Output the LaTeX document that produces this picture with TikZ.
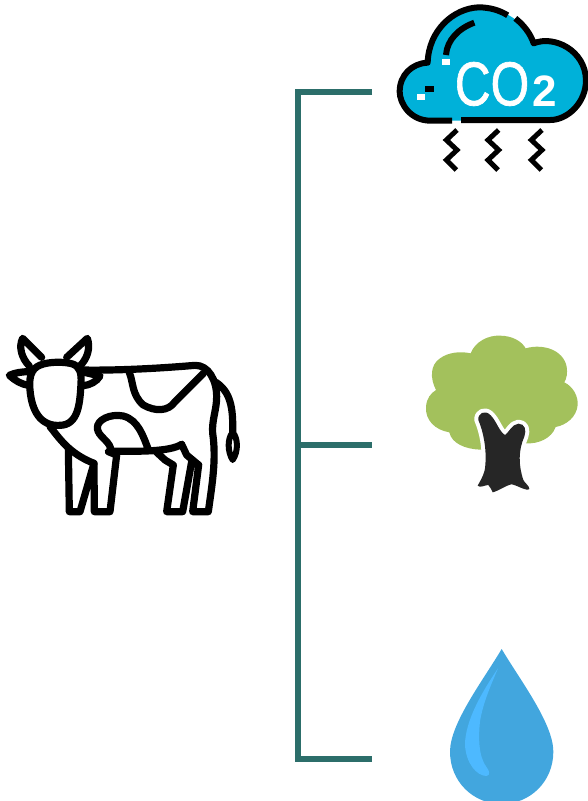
\documentclass[tikz,border=0pt]{standalone}
\usepackage{fontspec}
\setmainfont{Liberation Sans}
\newfontfamily\cofont[FakeBold=1.2]{Liberation Sans}
\definecolor{brk}{HTML}{2C6E6A}
\definecolor{cloudc}{HTML}{00B1D9}
\definecolor{leaf}{HTML}{A3C15C}
\definecolor{bark}{HTML}{262626}
\definecolor{dropc}{HTML}{42A6DE}
\definecolor{droph}{HTML}{4DB9FF}
\tikzset{
  bracket/.style={draw=brk,line width=5.5pt},
  cowline/.style={draw=black,line width=7.2pt,line join=round,line cap=round},
  cloudline/.style={draw=black,line width=6pt,line join=round},
  zig/.style={draw=black,line width=5pt,line join=miter},
}
\begin{document}
\begin{tikzpicture}[x=1pt,y=-1pt]
\useasboundingbox (0,0) rectangle (587,801);
% bracket
\coordinate (top) at (298,92);
\coordinate (mid) at (298,445);
\coordinate (bot) at (298,759);
\coordinate (topEnd) at (372,92);
\coordinate (midEnd) at (372,445);
\coordinate (botEnd) at (372,759);
\draw[bracket,line join=miter] (topEnd) -- (top) -- (bot) -- (botEnd);
\draw[bracket] (mid) -- (midEnd);
% cow
\begin{scope}[shift={(0,320)},x=0.33333pt,y=-0.33333pt]
\path[cowline]
  (130,132) .. controls (155,125) and (195,125) .. (218,132)
  .. controls (240,140) and (245,160) .. (243,190)
  .. controls (240,250) and (235,315) .. (180,316)
  .. controls (120,320) and (95,270) .. (90,210)
  .. controls (85,160) and (100,140) .. (130,132) -- cycle;
\path[cowline] (125,112) -- (68,55) .. controls (55,80) and (65,115) .. (88,138);
\path[cowline] (200,112) -- (262,55) .. controls (272,85) and (262,115) .. (240,138);
\path[cowline] (90,155) .. controls (65,155) and (45,158) .. (28,166) .. controls (45,182) and (65,193) .. (85,196);
\path[cowline] (245,155) -- (300,168) .. controls (290,185) and (270,195) .. (250,197);
\path[cowline] (245,150) .. controls (350,152) and (480,145) .. (585,136)
  .. controls (625,135) and (650,180) .. (650,230)
  .. controls (650,270) and (635,300) .. (638,340)
  .. controls (650,420) and (635,500) .. (625,575) -- (578,575) -- (596,435) -- (575,425)
  -- (548,575) -- (500,575) -- (520,435) -- (495,420) -- (468,395);
\path[cowline] (545,373) .. controls (510,395) and (420,395) .. (328,393);
\path[cowline] (545,373) -- (560,405) -- (596,435);
\path[cowline] (350,405) -- (330,575) -- (283,575) -- (282,430) -- (240,575) -- (208,575) -- (205,385);
\path[cowline] (150,320) .. controls (175,350) and (205,400) .. (282,430);
\path[cowline] (325,395) -- (350,405);
\path[cowline] (388,158) .. controls (400,185) and (395,225) .. (430,255)
  .. controls (465,275) and (505,275) .. (525,245) -- (610,160);
\path[cowline] (445,388) .. controls (430,350) and (415,300) .. (370,288)
  .. controls (330,280) and (290,300) .. (292,325) .. controls (295,350) and (325,360) .. (332,385);
\path[cowline] (648,187) .. controls (690,215) and (700,260) .. (698,335);
\path[cowline,line width=6pt] (698,337) .. controls (682,355) and (682,395) .. (698,420) .. controls (715,395) and (715,355) .. (698,337) -- cycle;
\end{scope}
% cloud
\begin{scope}[shift={(387,0)},x=0.33333pt,y=-0.33333pt]
\fill[cloudc] (200,362) -- (130,362) .. controls (70,362) and (38,310) .. (38,275)
  .. controls (38,225) and (75,190) .. (122,188)
  .. controls (125,90) and (200,25) .. (275,22)
  .. controls (350,22) and (420,70) .. (440,130)
  .. controls (500,105) and (595,150) .. (597,240)
  .. controls (597,310) and (540,360) .. (490,360) -- cycle;
\path[cloudline,line cap=butt] (195,362) -- (130,362) .. controls (70,362) and (38,310) .. (38,275)
  .. controls (38,225) and (75,190) .. (122,188)
  .. controls (125,90) and (200,25) .. (275,22)
  .. controls (310,22) and (340,32) .. (362,46);
\path[cloudline,line cap=butt] (385,55) .. controls (410,75) and (430,100) .. (440,130)
  .. controls (500,105) and (595,150) .. (597,240)
  .. controls (597,310) and (540,360) .. (490,360) -- (222,360);
\path[cloudline,line cap=butt] (262,68) .. controls (215,85) and (180,120) .. (177,165);
\fill[white] (165,178) rectangle (190,195);
\fill[white] (90,282) rectangle (115,300);
\fill[black] (115,258) rectangle (140,276);
\node[white,font=\cofont\fontsize{62}{62}\selectfont,xscale=0.8,transform shape,anchor=base west,inner sep=0pt] (co) at (203,316) {CO};
\node[white,font=\bfseries\fontsize{44}{44}\selectfont,anchor=base west,inner sep=0pt] (two) at (436,318) {2};
\foreach \o in {0,125,255}{
  \path[zig] (210+\o,390) -- (178+\o,420) -- (210+\o,450) -- (178+\o,480) -- (208+\o,510);
}
\end{scope}
% tree
\begin{scope}[shift={(410,325)},x=0.33333pt,y=-0.33333pt]
\fill[leaf] (210,374) .. controls (165,372) and (125,355) .. (118,322)
  .. controls (75,315) and (45,285) .. (48,245)
  .. controls (50,220) and (62,205) .. (78,195)
  .. controls (60,160) and (60,120) .. (90,100)
  .. controls (115,82) and (150,78) .. (182,85)
  .. controls (195,50) and (235,30) .. (270,32)
  .. controls (305,32) and (335,48) .. (347,70)
  .. controls (400,55) and (460,75) .. (470,125)
  .. controls (473,145) and (470,160) .. (463,172)
  .. controls (490,185) and (505,215) .. (503,240)
  .. controls (500,275) and (470,300) .. (437,306)
  .. controls (425,340) and (385,358) .. (345,355) -- cycle;
\def\trunk{(205,285) .. controls (203,265) and (225,252) .. (243,272)
  .. controls (260,290) and (268,320) .. (285,330)
  .. controls (295,325) and (305,298) .. (325,296)
  .. controls (345,296) and (350,315) .. (343,335)
  .. controls (325,375) and (325,420) .. (340,465)
  .. controls (345,475) and (358,482) .. (358,492)
  .. controls (350,500) and (320,480) .. (305,478)
  .. controls (290,480) and (265,498) .. (248,502)
  .. controls (240,495) and (245,485) .. (235,480)
  .. controls (225,480) and (210,490) .. (203,482)
  .. controls (215,460) and (225,445) .. (226,420)
  .. controls (230,370) and (220,320) .. (205,285) -- cycle}
\draw[white,line width=8pt,line join=round] \trunk;
\fill[bark] \trunk;
\end{scope}
% drop
\begin{scope}[shift={(430,640)},x=0.33333pt,y=-0.33333pt]
\fill[dropc] (215,27) .. controls (270,120) and (370,250) .. (370,335)
  .. controls (370,425) and (300,492) .. (215,492)
  .. controls (130,492) and (60,425) .. (60,335)
  .. controls (60,250) and (160,120) .. (215,27) -- cycle;
\fill[droph] (204,85) .. controls (160,150) and (105,240) .. (105,315)
  .. controls (108,370) and (140,408) .. (170,408)
  .. controls (182,405) and (178,392) .. (170,382)
  .. controls (145,350) and (145,290) .. (150,245)
  .. controls (158,190) and (185,130) .. (204,85) -- cycle;
\end{scope}
\end{tikzpicture}
\end{document}
